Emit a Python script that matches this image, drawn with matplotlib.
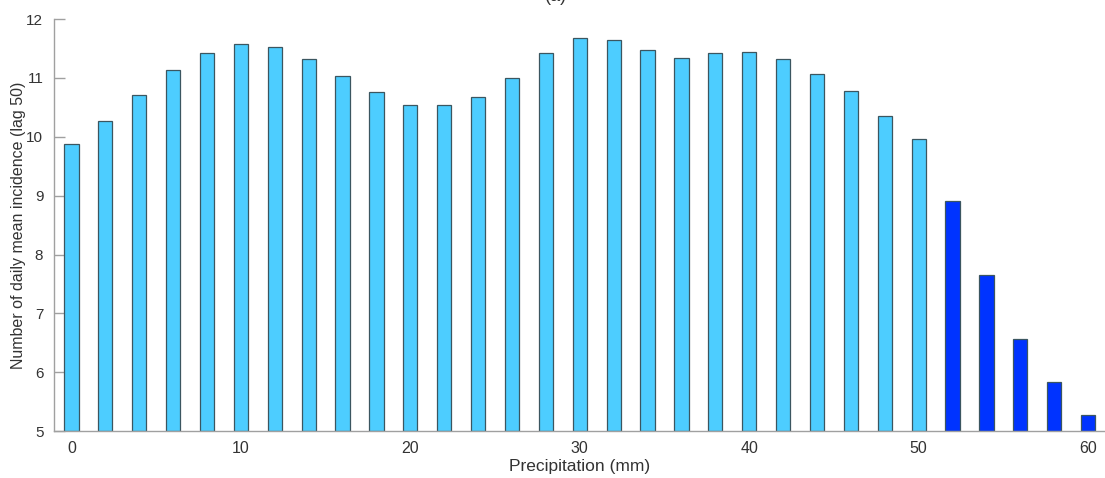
import numpy as np
import matplotlib.pyplot as plt

plt.rcParams['font.family'] = ['Liberation Sans', 'DejaVu Sans']

# precipitation bins (mm) and mean daily incidence at lag 50
precip = np.arange(0, 62, 2)
incidence = [9.87, 10.27, 10.71, 11.14, 11.42, 11.58, 11.53, 11.33, 11.04, 10.77,
             10.54, 10.54, 10.67, 11.00, 11.43, 11.68, 11.64, 11.47, 11.34, 11.42,
             11.44, 11.33, 11.06, 10.78, 10.35, 9.97,
             8.91, 7.65, 6.57, 5.83, 5.28]
high_from = 52  # bins from here on are highlighted

colors = ['#0033ff' if p >= high_from else '#4dcdff' for p in precip]

fig = plt.figure(figsize=(11.05, 4.78), dpi=100)
ax = fig.add_axes([0.0493, 0.098, 0.9507, 0.862])

ax.bar(precip, np.array(incidence) - 5, bottom=5, width=0.84,
       color=colors, edgecolor='#3b5660', linewidth=0.9, zorder=2)

ax.set_xlim(-1, 61)
ax.set_ylim(5, 12)
ax.set_xticks([0, 10, 20, 30, 40, 50, 60])
ax.set_yticks(range(5, 13))

for side in ('top', 'right'):
    ax.spines[side].set_visible(False)
for side in ('left', 'bottom'):
    ax.spines[side].set_color('#a0a0a0')
    ax.spines[side].set_linewidth(1.0)

ax.tick_params(axis='y', direction='in', length=8, width=1.0, color='#a0a0a0',
               labelsize=11, labelcolor='#333333', pad=8)
ax.tick_params(axis='x', length=0, labelsize=11.5, labelcolor='#333333', pad=7)

ax.set_xlabel('Precipitation (mm)', fontsize=12.5, color='#333333', labelpad=2)
ax.set_ylabel('Number of daily mean incidence (lag 50)', fontsize=11.5,
              color='#333333', labelpad=0)

fig.text(0.503, 1 - 5 / 478, '(a)', ha='center', va='bottom',
         fontsize=13, color='#333333')

fig.savefig('out.png', dpi=100)
